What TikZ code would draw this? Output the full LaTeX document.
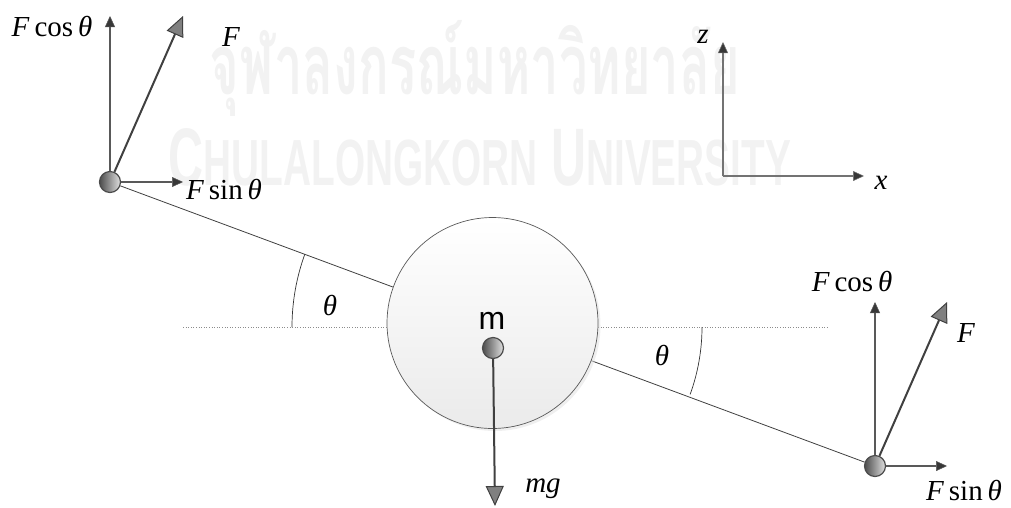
\documentclass[tikz,border=0pt]{standalone}
\usepackage{fontspec}
\usepackage{graphicx}
\setmainfont{Liberation Serif}
\newfontfamily\thaiwm[Script=Thai]{Loma}
\newfontfamily\wmsans{Liberation Sans}
\usetikzlibrary{arrows.meta,shadows}
\pgfdeclarelayer{bg}
\pgfsetlayers{bg,main}
\tikzset{
  lbl/.style={font=\fontsize{29}{31}\selectfont, inner sep=0pt},
  ball/.style={circle, minimum size=21pt, inner sep=0pt, draw=black!70, line width=1.2pt, left color=black!70, right color=black!12},
  force/.style={draw=black!75, line width=2pt, -{Triangle[length=20pt,width=18pt,fill=black!50,line width=1pt]}},
  comp/.style={draw=black!65, line width=1.3pt, -{Triangle[length=11pt,width=10pt,fill=black!78,line width=0.5pt]}},
  axis/.style={draw=black!55, line width=1.8pt, -{Triangle[length=11pt,width=10pt,fill=black!78,line width=0.5pt]}},
  angarc/.style={draw=black!80, line width=0.7pt},
  guide/.style={draw=black!45, line width=0.6pt, dotted},
  rod/.style={draw=black!75, line width=0.8pt},
  wm/.style={text=black!5, inner sep=0pt},
}
\begin{document}
\begin{tikzpicture}[x=1pt,y=-1pt]
\useasboundingbox (0,0) rectangle (1011,507);
% main body
\node[circle, minimum size=211pt, inner sep=0pt, draw=black!65, line width=0.7pt,
      top color=white, bottom color=black!8,
      drop shadow={shadow xshift=2.5pt, shadow yshift=-2.5pt, fill=black!12}] (C) at (492.5,323) {};
\node[ball] (L) at (110,182) {};
\node[ball] (R) at (875,466) {};
\node[ball] (M) at (493,348) {};
\coordinate (P) at (505,327);
% background layer
\begin{pgfonlayer}{bg}
  \node[wm] (wm1) at (475,68) {\resizebox{530pt}{74pt}{\thaiwm\bfseries จุฬาลงกรณ์มหาวิทยาลัย}};
  \node[wm] (wm2) at (480,157) {\resizebox{622pt}{57pt}{\wmsans\bfseries\fontsize{20}{20}\selectfont C{\fontsize{16}{16}\selectfont HULALONGKORN} U{\fontsize{16}{16}\selectfont NIVERSITY}}};
  \coordinate (gl1) at (183,327); \coordinate (gl2) at (388,327);
  \coordinate (gr1) at (598,327); \coordinate (gr2) at (828,327);
  \draw[guide] (gl1) -- (gl2);
  \draw[guide] (gr1) -- (gr2);
  \draw[rod] (L) -- (R);
  \draw[angarc] (P) ++(180:213) arc[start angle=180, end angle=200, radius=213];
  \draw[angarc] (P) ++(0:197) arc[start angle=0, end angle=20, radius=197];
\end{pgfonlayer}
% axes
\coordinate (O) at (723,176);
\coordinate (Zt) at (723,42);
\coordinate (Xt) at (864,176);
\draw[axis] (O) -- (Zt);
\draw[axis] (O) -- (Xt);
% left forces
\coordinate (LFt) at (183,16);
\coordinate (LCt) at (110,16);
\coordinate (LSt) at (183,182);
\draw[comp] (L) -- (LCt);
\draw[comp] (L) -- (LSt);
\draw[force] (L) -- (LFt);
% right forces
\coordinate (RFt) at (947,302);
\coordinate (RCt) at (875,302);
\coordinate (RSt) at (947,466);
\draw[comp] (R) -- (RCt);
\draw[comp] (R) -- (RSt);
\draw[force] (R) -- (RFt);
% weight
\coordinate (Mt) at (495,506);
\draw[force] (M) -- (Mt);
% labels
\node[lbl] (t1) at (52,26) {\textit{F}\,cos\,\textit{θ}};
\node[lbl] (t2) at (231,37) {\textit{F}};
\node[lbl] (t3) at (224,189) {\textit{F}\,sin\,\textit{θ}};
\node[lbl] (t4) at (852,281) {\textit{F}\,cos\,\textit{θ}};
\node[lbl] (t5) at (966,333) {\textit{F}};
\node[lbl] (t6) at (964,490) {\textit{F}\,sin\,\textit{θ}};
\node[lbl] (t7) at (543,489) {\textit{mg}};
\node[lbl] (t8) at (330,305) {\textit{θ}};
\node[lbl] (t9) at (662,355) {\textit{θ}};
\node[lbl] (t10) at (703,37) {\textit{z}};
\node[lbl] (t11) at (881,183) {\textit{x}};
\node[inner sep=0pt, font=\wmsans\fontsize{32}{34}\selectfont] (t12) at (492,321) {m};
\end{tikzpicture}
\end{document}
